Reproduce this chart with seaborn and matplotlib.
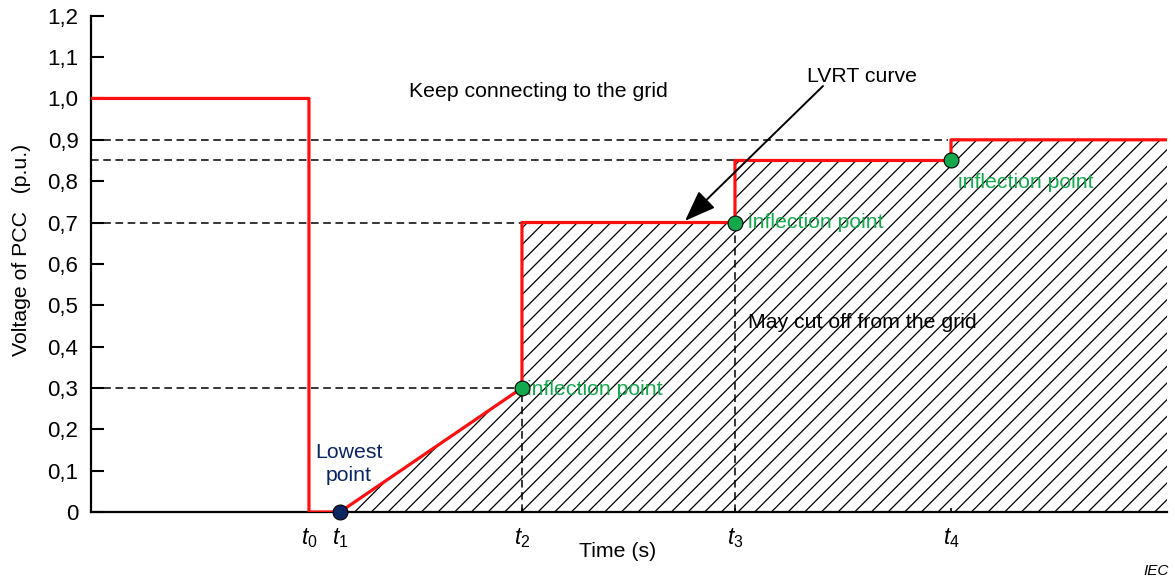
import matplotlib
matplotlib.use("Agg")
import matplotlib.pyplot as plt
import seaborn as sns
import pandas as pd

# --- Data ---
# time marks (arbitrary units, no scale given on the chart)
t_marks = [2.18, 2.49, 4.31, 6.44, 8.60]
t_labels = [r"$t_0$", r"$t_1$", r"$t_2$", r"$t_3$", r"$t_4$"]
t_end = 10.76

# LVRT curve
curve_t = [0.0, 2.18, 2.18, 2.49, 4.31, 4.31, 6.44, 6.44, 8.60, 8.60, 10.76]
curve_v = [1.0, 1.0, 0.0, 0.0, 0.3, 0.7, 0.7, 0.85, 0.85, 0.9, 0.9]

# hatched zone under the curve (may cut off)
zone_t = [2.49, 4.31, 4.31, 6.44, 6.44, 8.60, 8.60, 10.76]
zone_v = [0.0, 0.3, 0.7, 0.7, 0.85, 0.85, 0.9, 0.9]

# dashed guide lines
h_levels = [0.9, 0.85, 0.7, 0.3]
h_ends = [8.57, 6.44, 4.31, 4.31]
v_pos = [4.31, 6.44]
v_tops = [0.3, 0.7]

# marked points
infl_t = [4.31, 6.44, 8.60]
infl_v = [0.3, 0.7, 0.85]
low_t = [2.49]
low_v = [0.0]

y_ticks = [0.0, 0.1, 0.2, 0.3, 0.4, 0.5, 0.6, 0.7, 0.8, 0.9, 1.0, 1.1, 1.2]
y_labels = ["0", "0,1", "0,2", "0,3", "0,4", "0,5", "0,6", "0,7", "0,8", "0,9", "1,0", "1,1", "1,2"]

# --- Style ---
sns.set_theme(style="white")
plt.rcParams["font.family"] = ["Liberation Sans", "DejaVu Sans"]
plt.rcParams["mathtext.fontset"] = "custom"
plt.rcParams["mathtext.rm"] = "Liberation Sans"
plt.rcParams["mathtext.it"] = "Liberation Sans:italic"
plt.rcParams["text.color"] = "black"
plt.rcParams["axes.labelcolor"] = "black"
plt.rcParams["hatch.color"] = "black"
plt.rcParams["hatch.linewidth"] = 0.9

FS = 15.3
RED = "#ff1010"
GREEN = "#13a84b"
NAVY = "#0b2563"

fig = plt.figure(figsize=(11.75, 5.83), dpi=100)
ax = fig.add_axes([0.0774, 0.1218, 0.9158, 0.8512])

# hatched area
ax.fill_between(zone_t, zone_v, 0, facecolor="none", edgecolor="black",
                linewidth=0, hatch="//", zorder=1)

# dashed guides
for lv, te in zip(h_levels, h_ends):
    ax.plot([0, te], [lv, lv], color="black", lw=1.1, ls=(0, (5, 3)), zorder=2)
for tp, top in zip(v_pos, v_tops):
    ax.plot([tp, tp], [0, top], color="black", lw=1.1, ls=(0, (5, 3)), zorder=2)

# LVRT curve
curve = pd.DataFrame({"t": curve_t, "v": curve_v})
sns.lineplot(data=curve, x="t", y="v", sort=False, estimator=None,
             color=RED, lw=2.3, ax=ax, zorder=3)

# points
sns.scatterplot(x=infl_t, y=infl_v, s=115, color=GREEN, edgecolor="black",
                linewidth=0.8, ax=ax, zorder=4, clip_on=False)
sns.scatterplot(x=low_t, y=low_v, s=115, color=NAVY, edgecolor="black",
                linewidth=0.8, ax=ax, zorder=4, clip_on=False)

# annotations
ax.text(3.18, 1.016, "Keep connecting to the grid", fontsize=FS, va="center", ha="left")
ax.text(7.71, 1.052, "LVRT curve", fontsize=FS, va="center", ha="center")
ax.annotate("", xy=(5.94, 0.704), xytext=(7.32, 1.030),
            arrowprops=dict(arrowstyle="-|>,head_length=1.6,head_width=0.6",
                            color="black", lw=1.4, shrinkA=0, shrinkB=0))
ax.text(4.36, 0.295, "inflection point", fontsize=FS, color=GREEN, va="center", ha="left")
ax.text(6.57, 0.699, "inflection point", fontsize=FS, color=GREEN, va="center", ha="left")
ax.text(8.67, 0.796, "inflection point", fontsize=FS, color=GREEN, va="center", ha="left")
ax.text(6.57, 0.459, "May cut off from the grid", fontsize=FS, va="center", ha="left")
ax.text(2.58, 0.116, "Lowest\npoint", fontsize=FS, color=NAVY, va="center",
        ha="center", linespacing=1.3)

# axes
ax.set_xlim(0, t_end)
ax.set_ylim(0, 1.2)
ax.set_yticks(y_ticks)
ax.set_yticklabels(y_labels)
ax.set_xticks(t_marks)
ax.set_xticklabels(t_labels)
ax.tick_params(axis="y", direction="in", length=9.5, width=1.5, pad=9,
               labelsize=FS + 0.7, colors="black", left=True)
ax.tick_params(axis="x", direction="in", length=3, width=1.2, pad=10,
               labelsize=FS + 1, colors="black", bottom=True)
for side in ["top", "right"]:
    ax.spines[side].set_visible(False)
for side in ["left", "bottom"]:
    ax.spines[side].set_color("black")
    ax.spines[side].set_linewidth(1.6)

ax.set_xlabel("Time (s)", fontsize=FS)
ax.xaxis.set_label_coords(0.489, -0.06)
ax.set_ylabel("Voltage of PCC   (p.u.)", fontsize=FS)
ax.yaxis.set_label_coords(-0.056, 0.528)

fig.text(0.995, 0.008, "IEC", fontsize=11, style="italic", ha="right", va="bottom")

fig.savefig("out.png", dpi=100)
